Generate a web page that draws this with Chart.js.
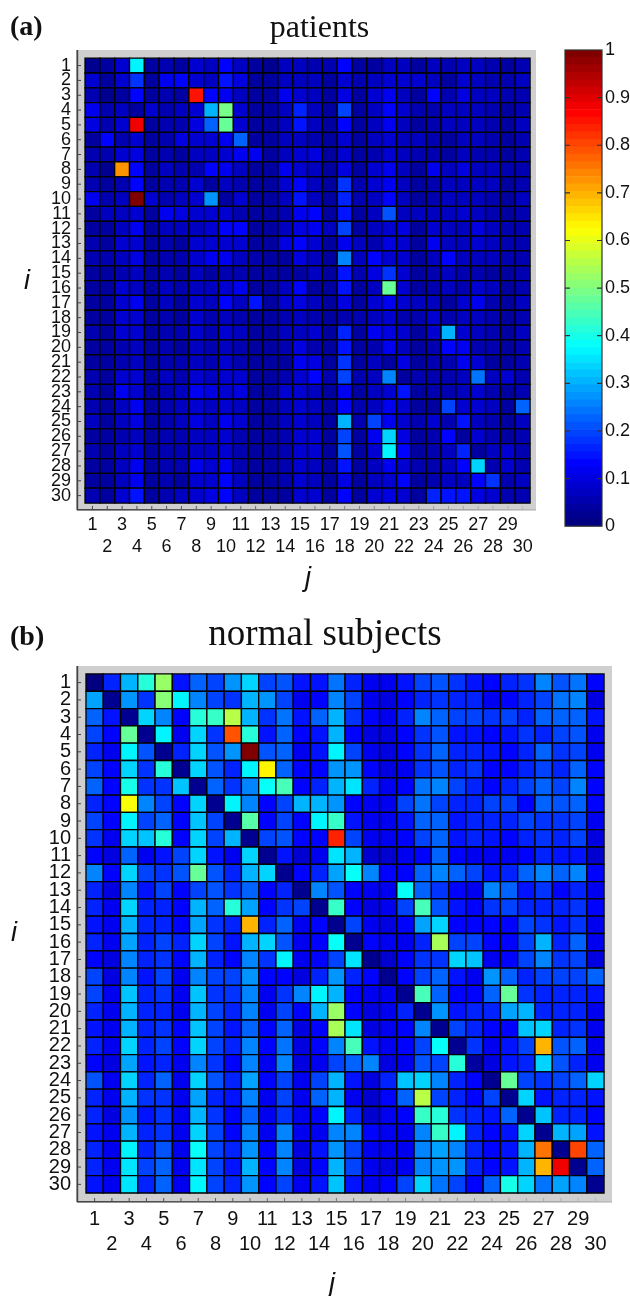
<!DOCTYPE html>
<html>
<head>
<meta charset="utf-8">
<title>patients / normal subjects</title>
<script src="https://cdn.jsdelivr.net/npm/chart.js@4/dist/chart.umd.min.js"></script>
<style>
  html, body { margin: 0; padding: 0; background: #fff; width: 630px; height: 1296px; overflow: hidden; position: relative; }
  canvas { position: absolute; }
  .txt { position: absolute; line-height: 1; color: #111; white-space: nowrap; }
  .panel { font: bold 28px "Liberation Serif", serif; }
  .axisname { font: italic 27px "Liberation Sans", sans-serif; }
</style>
</head>
<body>
<canvas id="patients" width="639" height="600" style="left:0;top:0"></canvas>
<canvas id="colorbar" width="75" height="510" style="left:555px;top:30px"></canvas>
<canvas id="normal" width="650" height="686" style="left:0;top:610px"></canvas>
<div class="txt panel" style="left:10px;top:10px">(a)</div>
<div class="txt axisname" style="left:24px;top:265px">i</div>
<div class="txt axisname" style="left:305px;top:562px">j</div>
<div class="txt panel" style="left:10px;top:620px">(b)</div>
<div class="txt axisname" style="left:11px;top:917px">i</div>
<div class="txt axisname" style="left:329px;top:1268px">j</div>
<script>
const tickValues = [1, 2, 3, 4, 5, 6, 7, 8, 9, 10, 11, 12, 13, 14, 15, 16, 17, 18, 19, 20, 21, 22, 23, 24, 25, 26, 27, 28, 29, 30];
const colorbarTicks = [0, 0.1, 0.2, 0.3, 0.4, 0.5, 0.6, 0.7, 0.8, 0.9, 1];

const patients = [
  [.03,.04,.09,.37,.04,.06,.04,.08,.07,.13,.07,.04,.03,.07,.07,.06,.06,.13,.04,.04,.07,.07,.04,.07,.06,.07,.07,.06,.04,.06],
  [.09,.04,.08,.18,.04,.12,.13,.09,.07,.15,.10,.04,.04,.07,.07,.07,.04,.09,.06,.07,.09,.08,.09,.07,.04,.08,.07,.06,.06,.07],
  [.06,.03,.04,.13,.04,.06,.04,.85,.14,.12,.07,.04,.04,.12,.08,.07,.04,.10,.04,.08,.11,.07,.04,.13,.06,.10,.07,.07,.06,.06],
  [.12,.06,.07,.04,.08,.06,.07,.09,.31,.49,.09,.04,.04,.07,.16,.07,.04,.20,.04,.07,.14,.08,.06,.06,.07,.07,.07,.06,.04,.06],
  [.10,.06,.08,.88,.04,.06,.06,.10,.22,.47,.08,.04,.04,.07,.15,.07,.04,.14,.04,.07,.12,.07,.04,.06,.07,.07,.07,.06,.04,.07],
  [.04,.13,.06,.08,.04,.06,.10,.08,.08,.12,.23,.04,.04,.07,.07,.06,.04,.09,.04,.07,.09,.07,.07,.06,.04,.07,.07,.06,.04,.06],
  [.06,.06,.08,.10,.04,.06,.04,.07,.07,.08,.11,.11,.04,.07,.08,.10,.04,.09,.04,.06,.08,.07,.06,.06,.04,.07,.06,.06,.04,.06],
  [.06,.03,.72,.13,.04,.07,.06,.06,.14,.12,.07,.04,.04,.12,.09,.07,.04,.10,.04,.08,.11,.07,.04,.12,.07,.10,.07,.07,.06,.06],
  [.06,.04,.06,.13,.04,.06,.06,.08,.04,.07,.06,.04,.04,.09,.13,.07,.04,.18,.06,.08,.12,.07,.04,.06,.07,.07,.07,.07,.04,.06],
  [.12,.06,.07,1.0,.09,.06,.07,.09,.28,.04,.09,.04,.04,.07,.15,.07,.04,.16,.06,.07,.14,.07,.04,.06,.07,.07,.07,.06,.04,.07],
  [.04,.07,.07,.08,.04,.12,.10,.09,.08,.09,.06,.04,.04,.06,.12,.14,.04,.15,.04,.07,.21,.07,.07,.07,.07,.08,.07,.06,.04,.06],
  [.04,.04,.07,.12,.04,.07,.07,.07,.08,.13,.14,.04,.04,.07,.10,.11,.07,.19,.04,.07,.09,.10,.04,.08,.07,.07,.10,.07,.06,.06],
  [.06,.04,.09,.09,.04,.06,.04,.08,.09,.09,.08,.04,.04,.10,.13,.08,.04,.12,.07,.06,.10,.08,.04,.11,.07,.07,.08,.07,.06,.06],
  [.06,.06,.07,.10,.04,.06,.06,.08,.11,.11,.07,.06,.04,.04,.10,.07,.04,.26,.07,.13,.09,.09,.04,.07,.13,.07,.07,.07,.06,.06],
  [.04,.04,.06,.07,.04,.06,.04,.07,.04,.06,.06,.04,.04,.04,.04,.07,.04,.15,.06,.10,.18,.08,.04,.06,.07,.06,.06,.04,.04,.06],
  [.04,.04,.08,.07,.04,.07,.06,.07,.07,.09,.11,.04,.04,.07,.14,.04,.04,.15,.04,.07,.48,.08,.04,.06,.07,.06,.09,.07,.04,.06],
  [.04,.04,.08,.12,.04,.07,.04,.09,.07,.14,.07,.15,.04,.08,.10,.07,.04,.10,.04,.09,.11,.08,.07,.07,.04,.08,.12,.06,.04,.07],
  [.04,.04,.08,.08,.04,.06,.04,.08,.06,.07,.06,.04,.04,.06,.07,.06,.04,.06,.06,.07,.09,.06,.06,.08,.06,.07,.07,.06,.04,.06],
  [.06,.04,.08,.08,.04,.06,.06,.08,.06,.09,.07,.04,.04,.07,.07,.08,.04,.16,.04,.12,.10,.08,.04,.09,.30,.08,.07,.06,.04,.07],
  [.04,.04,.06,.07,.04,.06,.04,.07,.06,.07,.06,.04,.04,.06,.10,.06,.04,.15,.04,.06,.11,.07,.04,.06,.13,.12,.06,.06,.04,.06],
  [.04,.04,.06,.07,.04,.06,.06,.07,.06,.08,.06,.04,.04,.04,.11,.10,.04,.18,.04,.07,.04,.10,.04,.06,.06,.12,.09,.04,.04,.06],
  [.06,.04,.09,.09,.04,.07,.06,.09,.07,.08,.08,.04,.04,.06,.09,.14,.06,.19,.06,.07,.26,.04,.06,.06,.06,.07,.24,.07,.09,.06],
  [.06,.04,.12,.08,.04,.06,.07,.11,.10,.08,.10,.04,.04,.08,.08,.07,.04,.11,.04,.07,.09,.15,.04,.06,.06,.07,.09,.06,.04,.06],
  [.06,.04,.07,.11,.04,.06,.07,.08,.07,.09,.07,.04,.04,.07,.08,.07,.04,.14,.06,.07,.11,.08,.04,.04,.20,.09,.08,.07,.04,.23],
  [.07,.04,.07,.10,.04,.06,.07,.10,.07,.11,.08,.04,.04,.07,.08,.07,.04,.30,.06,.19,.11,.08,.06,.08,.06,.15,.07,.06,.04,.07],
  [.04,.04,.06,.07,.04,.06,.06,.07,.07,.08,.06,.04,.04,.06,.08,.08,.04,.20,.04,.12,.34,.10,.04,.06,.13,.04,.08,.06,.04,.06],
  [.06,.04,.07,.08,.04,.06,.06,.07,.07,.08,.06,.04,.04,.06,.09,.09,.04,.21,.04,.08,.37,.13,.04,.06,.07,.17,.04,.07,.08,.06],
  [.04,.04,.07,.12,.04,.06,.06,.11,.08,.12,.06,.04,.04,.06,.08,.07,.04,.15,.04,.07,.11,.08,.06,.06,.07,.13,.34,.06,.09,.06],
  [.04,.04,.07,.12,.04,.06,.04,.09,.08,.13,.07,.04,.04,.06,.08,.07,.04,.10,.04,.07,.08,.14,.04,.06,.07,.07,.13,.18,.06,.07],
  [.06,.04,.09,.15,.04,.06,.07,.09,.10,.14,.07,.04,.04,.04,.09,.09,.04,.14,.04,.08,.10,.09,.04,.16,.15,.15,.10,.09,.06,.06]
];

const normalSubjects = [
  [.00,.16,.30,.42,.53,.15,.22,.20,.27,.34,.19,.21,.15,.15,.24,.17,.12,.11,.15,.19,.21,.18,.15,.14,.17,.18,.25,.21,.24,.14],
  [.29,.02,.27,.18,.50,.37,.26,.20,.18,.30,.27,.19,.11,.14,.25,.20,.11,.10,.14,.17,.18,.17,.16,.12,.14,.17,.20,.24,.26,.10],
  [.23,.15,.02,.34,.25,.13,.42,.43,.55,.31,.18,.24,.15,.23,.31,.18,.13,.12,.17,.25,.22,.20,.19,.18,.19,.17,.23,.23,.23,.15],
  [.20,.14,.47,.02,.36,.11,.33,.18,.79,.42,.15,.23,.14,.15,.30,.14,.10,.10,.14,.18,.21,.15,.15,.14,.15,.18,.17,.19,.21,.11],
  [.17,.11,.37,.21,.02,.16,.33,.21,.27,1.0,.21,.22,.12,.15,.37,.19,.11,.10,.14,.18,.22,.17,.17,.15,.14,.17,.22,.18,.19,.11],
  [.20,.13,.33,.18,.41,.02,.33,.21,.16,.37,.64,.22,.13,.14,.27,.27,.13,.10,.12,.18,.21,.16,.18,.13,.14,.16,.20,.17,.23,.13],
  [.23,.14,.40,.18,.18,.32,.02,.23,.18,.26,.38,.45,.14,.16,.30,.35,.16,.11,.13,.24,.25,.20,.16,.13,.16,.19,.23,.19,.25,.13],
  [.17,.13,.62,.25,.19,.14,.33,.03,.37,.26,.14,.19,.30,.30,.28,.14,.11,.12,.20,.24,.19,.16,.16,.20,.19,.14,.22,.21,.23,.14],
  [.20,.13,.37,.20,.23,.13,.32,.19,.03,.46,.14,.20,.14,.36,.43,.15,.11,.11,.15,.22,.23,.15,.17,.17,.16,.19,.18,.18,.20,.11],
  [.18,.11,.33,.32,.42,.14,.33,.19,.30,.02,.20,.21,.13,.14,.83,.20,.11,.11,.14,.19,.23,.15,.17,.15,.13,.17,.18,.17,.20,.10],
  [.13,.10,.22,.12,.15,.19,.34,.15,.12,.33,.02,.15,.09,.11,.35,.30,.09,.09,.12,.14,.22,.14,.12,.12,.11,.13,.17,.15,.15,.09],
  [.26,.14,.33,.19,.18,.21,.47,.21,.17,.30,.33,.02,.14,.16,.29,.39,.25,.13,.14,.22,.25,.22,.19,.15,.16,.22,.26,.23,.25,.14],
  [.16,.10,.26,.15,.19,.13,.20,.21,.18,.22,.13,.17,.02,.26,.21,.14,.11,.12,.38,.22,.18,.13,.11,.25,.23,.15,.18,.14,.17,.12],
  [.16,.11,.33,.17,.17,.13,.30,.23,.42,.29,.13,.18,.19,.03,.43,.13,.10,.11,.19,.45,.21,.15,.13,.18,.20,.17,.17,.16,.18,.13],
  [.15,.11,.30,.16,.16,.13,.29,.18,.16,.69,.17,.23,.12,.13,.02,.20,.11,.10,.14,.29,.33,.14,.14,.14,.13,.20,.18,.15,.18,.11],
  [.16,.11,.29,.17,.19,.16,.34,.19,.15,.31,.34,.21,.12,.13,.38,.02,.14,.11,.12,.17,.54,.19,.20,.13,.13,.20,.30,.17,.22,.12],
  [.14,.10,.26,.17,.18,.13,.30,.17,.13,.25,.18,.37,.11,.13,.20,.35,.02,.09,.13,.18,.18,.34,.32,.11,.14,.19,.26,.18,.20,.10],
  [.19,.10,.26,.15,.20,.12,.25,.19,.19,.28,.14,.14,.10,.17,.27,.17,.13,.02,.14,.20,.23,.15,.11,.27,.22,.16,.20,.20,.19,.22],
  [.19,.11,.32,.17,.18,.12,.32,.18,.18,.25,.12,.18,.26,.37,.30,.14,.11,.12,.03,.44,.23,.14,.13,.22,.47,.18,.17,.16,.16,.15],
  [.17,.11,.31,.17,.17,.12,.30,.20,.17,.26,.12,.20,.13,.30,.52,.13,.10,.11,.17,.03,.28,.15,.16,.16,.29,.30,.16,.16,.17,.12],
  [.15,.11,.31,.16,.18,.13,.32,.19,.15,.23,.13,.23,.10,.13,.54,.35,.10,.11,.13,.25,.03,.19,.17,.13,.13,.32,.33,.16,.18,.12],
  [.16,.11,.33,.17,.19,.13,.33,.19,.16,.26,.14,.24,.10,.13,.26,.45,.15,.11,.13,.20,.38,.03,.18,.11,.15,.19,.69,.21,.23,.12],
  [.13,.10,.29,.15,.17,.11,.25,.18,.14,.25,.12,.26,.10,.12,.20,.23,.25,.10,.12,.21,.19,.42,.04,.10,.15,.16,.33,.21,.16,.12],
  [.21,.11,.34,.17,.22,.12,.34,.21,.17,.29,.13,.20,.12,.19,.31,.15,.10,.16,.32,.33,.26,.16,.13,.03,.47,.19,.18,.20,.23,.34],
  [.16,.11,.30,.18,.18,.12,.29,.17,.15,.25,.11,.19,.12,.22,.30,.12,.09,.13,.22,.55,.20,.16,.13,.19,.03,.34,.15,.16,.17,.15],
  [.16,.10,.28,.15,.18,.11,.30,.18,.14,.22,.11,.18,.11,.14,.37,.16,.09,.12,.13,.43,.42,.18,.16,.15,.23,.02,.32,.16,.16,.13],
  [.15,.11,.31,.16,.18,.12,.33,.19,.13,.25,.12,.25,.11,.12,.26,.26,.13,.11,.11,.25,.43,.36,.17,.13,.15,.33,.02,.31,.29,.15],
  [.16,.12,.37,.16,.21,.11,.38,.20,.17,.28,.14,.26,.10,.15,.27,.19,.11,.11,.12,.25,.29,.25,.16,.13,.15,.31,.76,.02,.80,.23],
  [.16,.12,.35,.19,.23,.12,.35,.20,.15,.30,.13,.26,.10,.13,.30,.20,.11,.10,.12,.25,.27,.28,.17,.13,.15,.31,.69,.88,.02,.22],
  [.15,.11,.35,.17,.23,.12,.36,.19,.17,.28,.13,.19,.11,.15,.32,.15,.12,.14,.19,.33,.24,.20,.14,.23,.40,.34,.24,.29,.25,.02]
];

const SANS = '"Liberation Sans", Arial, sans-serif';
const SERIF = '"Liberation Serif", "Times New Roman", serif';
const JET_LEVELS = 64;

function jet(v) {
  // same 64 steps as the colour bar
  const t = Math.min(Math.floor(v * JET_LEVELS), JET_LEVELS - 1) / (JET_LEVELS - 1);
  const ch = (c) => Math.round(255 * Math.max(0, Math.min(1, 1.5 - Math.abs(4 * t - c))));
  return `rgb(${ch(3)},${ch(2)},${ch(1)})`;
}

// grey frame with the dark left and bottom axis and the little inner ticks
const framePlugin = {
  id: "frame",
  beforeDatasetsDraw(chart) {
    const { ctx, chartArea: a, scales } = chart;
    ctx.save();
    ctx.fillStyle = "#cfcfcf";
    ctx.fillRect(a.left, a.top, a.width, a.height);
    const grad = ctx.createLinearGradient(a.left, 0, a.right, 0);
    grad.addColorStop(0, "#444");
    grad.addColorStop(0.5, "#777");
    grad.addColorStop(1, "#bbb");
    ctx.fillStyle = grad;
    ctx.fillRect(a.left, a.bottom - 1, a.width, 1.6);
    ctx.fillStyle = "#444";
    ctx.fillRect(a.left - 0.6, a.top, 1.8, a.height);
    tickValues.forEach((v) => {
      ctx.fillStyle = grad;
      ctx.fillRect(scales.x.getPixelForValue(v) - 0.5, a.bottom - 4, 1, 4);
      ctx.fillStyle = "#444";
      ctx.fillRect(a.left, scales.y.getPixelForValue(v) - 0.5, 4, 1);
    });
    ctx.restore();
  },
};

function cellRadius(c) {
  const x = c.chart.scales.x;
  return Math.abs(x.getPixelForValue(2) - x.getPixelForValue(1)) / Math.SQRT2;
}

function matrixChart(id, matrix, opt) {
  const cells = [];
  matrix.forEach((row, i) => {
    row.forEach((v, j) => cells.push({ x: j + 1, y: i + 1, v: v }));
  });
  return new Chart(id, {
    type: "scatter",
    plugins: [framePlugin],
    data: {
      datasets: [
        {
          data: cells,
          pointStyle: "rect",
          pointRadius: cellRadius,
          pointHoverRadius: cellRadius,
          pointBackgroundColor: (c) => jet(c.raw.v),
          pointBorderColor: "#000",
          pointBorderWidth: 1.3,
        },
      ],
    },
    options: {
      responsive: false,
      animation: false,
      plugins: {
        legend: { display: false },
        tooltip: { enabled: false },
        title: {
          display: true,
          text: opt.title,
          color: "#111",
          font: { family: SERIF, size: opt.titleSize, weight: "normal" },
          padding: opt.titlePadding,
        },
      },
      scales: {
        x: {
          type: "linear",
          min: opt.xRange[0],
          max: opt.xRange[1],
          afterFit: (s) => { s.height = opt.xAxisHeight; },
          afterBuildTicks: (s) => { s.ticks = tickValues.map((v) => ({ value: v })); },
          grid: { display: false, drawTicks: false },
          border: { display: false },
          ticks: {
            autoSkip: false,
            maxRotation: 0,
            minRotation: 0,
            padding: opt.xTickPadding,
            color: "#111",
            font: { family: SANS, size: opt.tickSize, lineHeight: opt.tickLine },
            callback: (v) => (v % 2 ? [String(v), ""] : ["", String(v)]),
          },
        },
        y: {
          type: "linear",
          reverse: true,
          min: opt.yRange[0],
          max: opt.yRange[1],
          afterFit: (s) => { s.width = 77; },
          afterBuildTicks: (s) => { s.ticks = tickValues.map((v) => ({ value: v })); },
          grid: { display: false, drawTicks: false },
          border: { display: false },
          ticks: {
            autoSkip: false,
            padding: 6,
            color: "#111",
            font: { family: SANS, size: opt.tickSize },
            callback: (v) => String(v),
          },
        },
        // empty axis, only keeps the room right of the frame so the title stays centred on the canvas
        spacer: {
          type: "linear",
          position: "right",
          afterFit: (s) => { s.width = opt.right; },
          grid: { display: false, drawTicks: false },
          border: { display: false },
          ticks: { display: false },
        },
      },
    },
  });
}

matrixChart("patients", patients, {
  title: "patients",
  titleSize: 32,
  titlePadding: { top: 9, bottom: 2.6 },
  right: 103,
  xRange: [-0.04, 30.9],
  yRange: [-0.05, 30.97],
  xAxisHeight: 90,
  xTickPadding: 5,
  tickSize: 18,
  tickLine: 1.17,
});

matrixChart("normal", normalSubjects, {
  title: "normal subjects",
  titleSize: 37,
  titlePadding: { top: 3, bottom: 8.6 },
  right: 38,
  xRange: [-0.02, 30.96],
  yRange: [0.04, 31.02],
  xAxisHeight: 94,
  xTickPadding: 5,
  tickSize: 20,
  tickLine: 1.25,
});

// colour bar: 64 stacked steps on a 0..1 axis
const barSteps = [];
for (let k = 0; k < JET_LEVELS; k++) {
  barSteps.push({ data: [1 / JET_LEVELS], backgroundColor: jet((k + 0.5) / JET_LEVELS), borderWidth: 0, barPercentage: 1, categoryPercentage: 1, stack: "bar" });
}

const colorbarFrame = {
  id: "colorbarFrame",
  afterDatasetsDraw(chart) {
    const { ctx, chartArea: a, scales } = chart;
    ctx.save();
    ctx.strokeStyle = "#333";
    ctx.lineWidth = 1.2;
    ctx.strokeRect(a.left, a.top, a.width, a.height);
    colorbarTicks.slice(1, -1).forEach((v) => {
      const y = scales.y.getPixelForValue(v);
      ctx.beginPath();
      ctx.moveTo(a.left, y);
      ctx.lineTo(a.left + 5, y);
      ctx.moveTo(a.right - 5, y);
      ctx.lineTo(a.right, y);
      ctx.stroke();
    });
    ctx.restore();
  },
};

new Chart("colorbar", {
  type: "bar",
  plugins: [colorbarFrame],
  data: { labels: [""], datasets: barSteps },
  options: {
    responsive: false,
    animation: false,
    layout: { padding: { left: 10, top: 20, right: 0, bottom: 0 } },
    plugins: { legend: { display: false }, tooltip: { enabled: false } },
    scales: {
      x: { stacked: true, display: false },
      y: {
        stacked: true,
        position: "right",
        min: 0,
        max: 1,
        afterFit: (s) => { s.width = 28; },
        afterBuildTicks: (s) => { s.ticks = colorbarTicks.map((v) => ({ value: v })); },
        grid: { display: false, drawTicks: false },
        border: { display: false },
        ticks: {
          padding: 3,
          color: "#111",
          font: { family: SANS, size: 18 },
          callback: (v) => String(v),
        },
      },
    },
  },
});
</script>
</body>
</html>
